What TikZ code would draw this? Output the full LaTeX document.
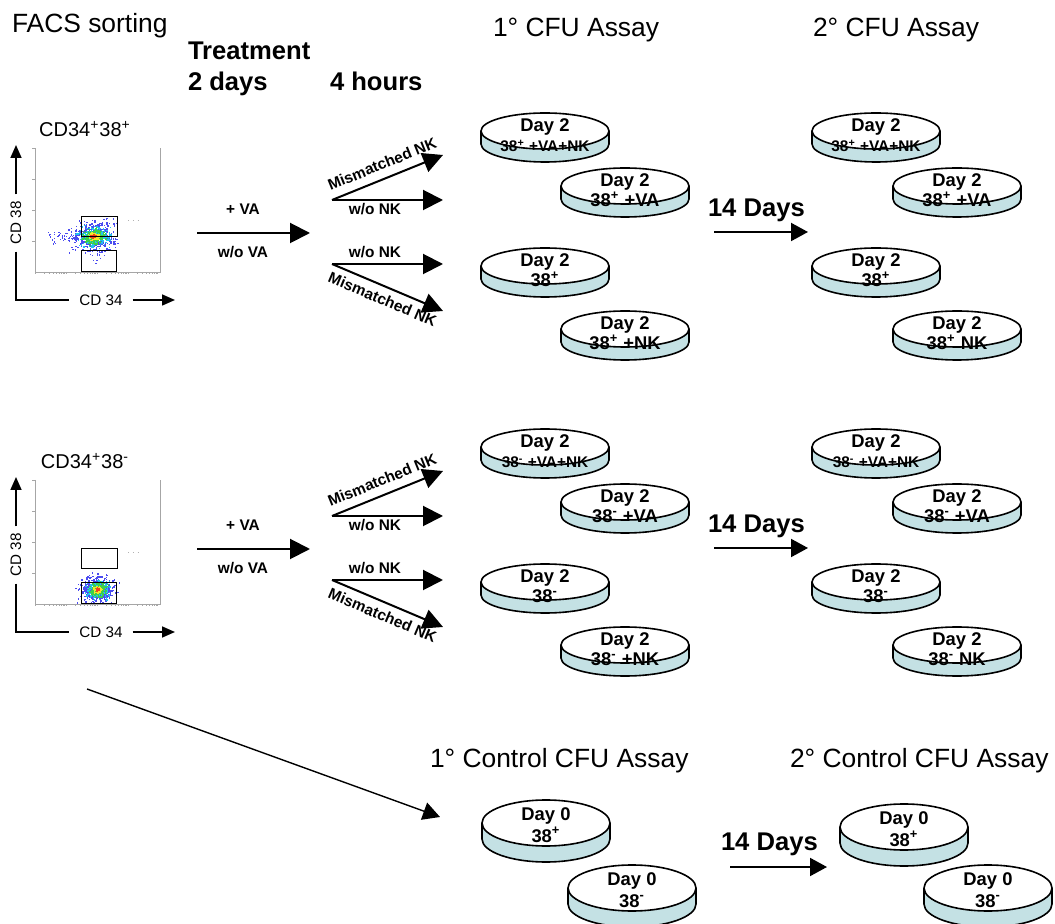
\documentclass[tikz,border=0pt]{standalone}
\usepackage{fontspec}
\setmainfont{Liberation Sans}
\usetikzlibrary{arrows.meta}
\definecolor{dishblue}{HTML}{C4E1E4}
\definecolor{dotblue}{HTML}{4B4BF0}
\definecolor{dotcyan}{HTML}{22C4F0}
\definecolor{dotgreen}{HTML}{3CCF4A}
\definecolor{dotyellow}{HTML}{F2E62A}
\definecolor{dotred}{HTML}{F0401E}
\def\dishry{18}\def\dishth{13}\def\dishtopb{1}\def\dishbotb{21}
\newcommand\petri[5]{%
  \filldraw[dishline,fill=dishblue] (#2,#3+\dishth) ellipse [x radius=64,y radius=\dishry];
  \fill[dishblue] (#2-64,#3) rectangle (#2+64,#3+\dishth);
  \draw[dishline] (#2-64,#3) -- (#2-64,#3+\dishth) (#2+64,#3) -- (#2+64,#3+\dishth);
  \filldraw[dishline,fill=white] (#2,#3) ellipse [x radius=64,y radius=\dishry];
  \node[dishtxt] (#1a) at (#2,#3+\dishtopb) {#4};
  \node[dishtxt] (#1b) at (#2,#3+\dishbotb) {#5};
}

\begin{document}
\begin{tikzpicture}[x=0.5pt,y=-0.5pt,inner sep=0pt,outer sep=0pt,
title/.style={font=\fontsize{13.2}{15}\selectfont,anchor=base west},
btitle/.style={font=\fontsize{12.8}{15}\selectfont\bfseries,anchor=base west},
plottitle/.style={font=\fontsize{10}{12}\selectfont,anchor=base},
armlbl/.style={font=\fontsize{7.7}{9}\selectfont\bfseries},
armtxt/.style={armlbl,anchor=base},
axlbl/.style={font=\fontsize{7.6}{9}\selectfont},
dishtxt/.style={font=\fontsize{9.2}{11}\selectfont\bfseries,anchor=base},
dishline/.style={line width=0.8pt},
bigarrow/.style={line width=1pt,-{Triangle[length=10pt,width=10pt]}},
dayarrow/.style={line width=1pt,-{Triangle[length=8.5pt,width=9pt]}},
axarrow/.style={line width=0.8pt,-{Triangle[length=6.5pt,width=5.5pt]}},
axline/.style={line width=0.8pt},
frame/.style={gray!70,line width=0.4pt},
gate/.style={line width=0.5pt}]
\useasboundingbox (0,0) rectangle (1055,924);
\clip (0,0) rectangle (1055,924);

\draw (12,33) node[title] (facs) {FACS sorting};
\draw (188,60) node[btitle] (treat) {Treatment};
\draw (188,91) node[btitle] (twodays) {2 days};
\draw (330,91) node[btitle] (fourhours) {4 hours};
\draw (493,37) node[title] (cfu1) {1° CFU Assay};
\draw (813,37) node[title] (cfu2) {2° CFU Assay};

\pgfmathsetseed{11}
\foreach \cx/\cy/\sx/\sy/\py in {93/236/11/7.5/0,97/589/8.5/6.5/332}{
  \begin{scope}
    \clip (35,148+\py) rectangle (160,272+\py);
    \foreach \col/\n/\f in {dotblue/420/1,dotcyan/300/0.62,dotgreen/260/0.45,dotyellow/70/0.24,dotred/18/0.12}
      \foreach \k in {1,...,\n}
        \fill[\col] ({\cx+\f*\sx*(rand+rand+rand)},{\cy+\f*\sy*(rand+rand+rand)}) rectangle ++(1.4,1.4);
  \end{scope}
}
\foreach \k in {1,...,60}
  \fill[dotblue] ({66+18*rand},{236+4*(rand+rand)}) rectangle ++(1.2,1.2);
\foreach \k in {1,...,10}
  \fill[dotblue] ({98+5*rand},{258+7*rand}) rectangle ++(1.2,1.2);

\foreach \s/\dy/\py/\sg in {p/0/0/+,m/316/332/-}{
  % sorting plot
  \draw (85,137+\py) node[plottitle] (ttl\s) {CD34\textsuperscript{+}38\textsuperscript{\sg}};
  \draw[frame] (35,148+\py) -- (35,272+\py) -- (160,272+\py) -- (160,148+\py);
  \foreach \yy in {148,179,210,241} \draw[frame] (32,\yy+\py) -- (35,\yy+\py);
  \foreach \dec in {35,66,97,128} \foreach \k in {1,...,9} \draw[frame] ({\dec+31*log10(\k)},272+\py) -- ++(0,2.5);
  \draw[gray!60,dotted] (128,220+\py) -- (138,220+\py);
  \draw[gate] (81,217+\py) rectangle (117,237+\py) (81,251+\py) rectangle (116,272+\py);
  \draw (16,223+\py) node[axlbl,rotate=90,inner xsep=3.5pt] (ylab\s) {CD 38};
  \draw (101,300+\py) node[axlbl,inner xsep=5pt] (xlab\s) {CD 34};
  \coordinate (ytip\s) at (16,145+\py);
  \coordinate (xtip\s) at (175,300+\py);
  \draw[axarrow] (ylab\s.east) -- (ytip\s);
  \draw[axline] (ylab\s.west) |- (xlab\s.west);
  \draw[axarrow] (xlab\s.east) -- (xtip\s);

  % treatment and NK
  \draw (243,215+\dy) node[armtxt] (va\s) {+ VA};
  \draw (243,258+\dy) node[armtxt] (nova\s) {w/o VA};
  \coordinate (trt\s) at (197,233+\dy);
  \coordinate (trtend\s) at (310,233+\dy);
  \draw[bigarrow] (trt\s) -- (trtend\s);
  \coordinate (up\s) at (332,200+\dy);
  \coordinate (lo\s) at (332,264+\dy);
  \coordinate (tipa\s) at (443,155+\dy);
  \coordinate (tipb\s) at (443,200+\dy);
  \coordinate (tipc\s) at (443,264+\dy);
  \coordinate (tipd\s) at (443,311+\dy);
  \draw[bigarrow] (up\s) -- node[armlbl,sloped,above=4.5pt] (mma\s) {Mismatched NK} (tipa\s);
  \draw[bigarrow] (up\s) -- (tipb\s);
  \draw (375,215+\dy) node[armtxt] (nonka\s) {w/o NK};
  \draw (375,258+\dy) node[armtxt] (nonkb\s) {w/o NK};
  \draw[bigarrow] (lo\s) -- (tipc\s);
  \draw[bigarrow] (lo\s) -- node[armlbl,sloped,below=3.5pt] (mmb\s) {Mismatched NK} (tipd\s);

  % CFU dishes
  \petri{one\s1}{545}{131+\dy}{Day 2}{{\fontsize{7.7}{9}\selectfont 38\textsuperscript{\sg} +VA+NK}}
  \petri{one\s2}{625}{186+\dy}{Day 2}{38\textsuperscript{\sg} +VA}
  \petri{one\s3}{545}{266+\dy}{Day 2}{38\textsuperscript{\sg}}
  \petri{one\s4}{625}{329+\dy}{Day 2}{38\textsuperscript{\sg} +NK}
  \draw (708,217+\dy) node[btitle] (days\s) {14 Days};
  \coordinate (dl\s) at (714,232+\dy);
  \coordinate (dr\s) at (808,232+\dy);
  \draw[dayarrow] (dl\s) -- (dr\s);
  \petri{two\s1}{876}{131+\dy}{Day 2}{{\fontsize{7.7}{9}\selectfont 38\textsuperscript{\sg} +VA+NK}}
  \petri{two\s2}{957}{186+\dy}{Day 2}{38\textsuperscript{\sg} +VA}
  \petri{two\s3}{876}{266+\dy}{Day 2}{38\textsuperscript{\sg}}
  \petri{two\s4}{957}{329+\dy}{Day 2}{38\textsuperscript{\sg} NK}
}

% control
\coordinate (ctl) at (87,689);
\coordinate (ctlend) at (440,817);
\draw[dayarrow,line width=0.7pt] (ctl) -- (ctlend);
\draw (430,767) node[title] (ctl1) {1° Control CFU Assay};
\draw (790,767) node[title] (ctl2) {2° Control CFU Assay};
\def\dishry{23}\def\dishth{16}\def\dishtopb{-3}\def\dishbotb{19}
\petri{ca}{546}{823}{Day 0}{38\textsuperscript{+}}
\petri{cb}{632}{888}{Day 0}{38\textsuperscript{-}}
\draw (721,850) node[btitle] (daysc) {14 Days};
\coordinate (dlc) at (730,867);
\coordinate (drc) at (827,867);
\draw[dayarrow] (dlc) -- (drc);
\petri{cc}{904}{827}{Day 0}{38\textsuperscript{+}}
\petri{cd}{988}{888}{Day 0}{38\textsuperscript{-}}
\end{tikzpicture}
\end{document}
